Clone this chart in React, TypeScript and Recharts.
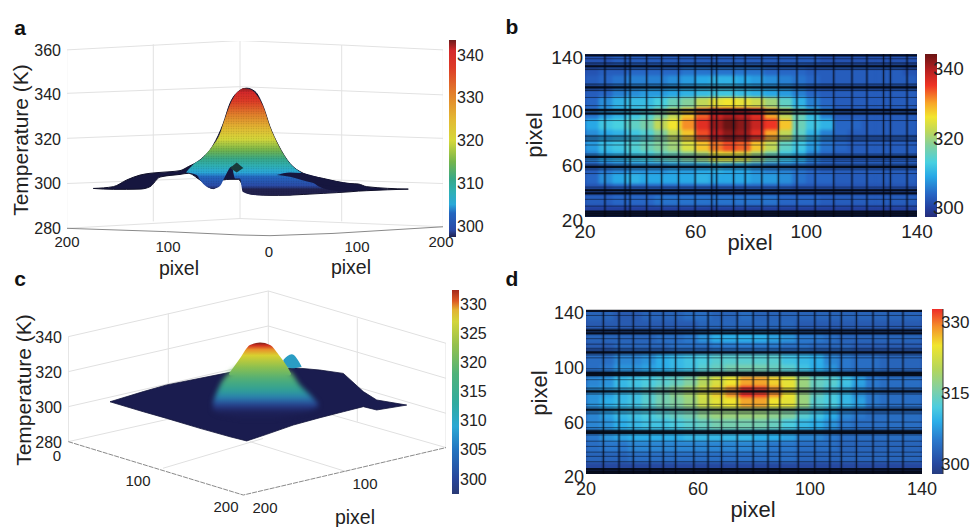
import React from "react";
import { ComposedChart, ScatterChart, BarChart, Bar, Scatter, Area, Line, XAxis, YAxis, ReferenceLine } from "recharts";

const FONT = '"Liberation Sans", Arial, sans-serif';
type Stop = [number, string];

// ---------- colour scales (temperature, colour) ----------
const cmapA: Stop[] = [[297.4,"#22224f"],[299,"#2a4aa6"],[303,"#2366c0"],[305,"#2aa8d8"],[308,"#2fb0b4"],[311,"#38a888"],[315,"#74b54c"],[320,"#d6d83a"],[325,"#e3b833"],[331,"#e27f2b"],[337,"#dd3b26"],[341,"#d4282a"],[343.5,"#6d1c1c"]];
const cmapB: Stop[] = [[297.4,"#262c78"],[300,"#23409f"],[304,"#2766c5"],[309,"#28a8e6"],[313,"#48d0e0"],[318,"#84d09c"],[322,"#c0d858"],[326,"#f2e52e"],[330,"#f8a528"],[335,"#ee3424"],[339,"#bb2020"],[344,"#6a1414"]];
const cmapC: Stop[] = [[297.4,"#2a3a75"],[300,"#28469a"],[305,"#2274c0"],[309,"#2ba8d4"],[313,"#30ab9f"],[318,"#4fb27a"],[323,"#95c04e"],[327,"#d3d53a"],[329,"#e3b232"],[330.5,"#dd5a24"],[332.4,"#a52a1c"]];
const cmapD: Stop[] = [[297.9,"#263c80"],[300,"#26489f"],[305,"#2a78cc"],[309,"#2caee8"],[312,"#4cccdf"],[316,"#84d0a0"],[320,"#b4d65c"],[325,"#f0e52e"],[329,"#f4902a"],[332.7,"#ee2c28"]];
const cmapPeakC: Stop[] = [[296.4,"#1c1f55"],[298,"#1f2560"],[301.2,"#27418f"],[305.3,"#2a7fb0"],[309.3,"#2f9f98"],[315.8,"#4fae78"],[322.7,"#8cc050"],[329.5,"#d8d030"],[332.8,"#e8902a"],[335.2,"#d0301f"],[336.8,"#7a2018"]];

// ---------- panel a: projected surface (view x, temperature) ----------
const aX = [93.3,113.3,126.7,140,150,160,180,188.3,200,213.3,223.3,230,238.3,246.7,255,263.3,270,278.3,290,303.3,323.3,350,358.3,366.7,408.3];
const aHigh = [297.8,298.6,301.6,303.8,304.6,305,305.8,307.6,310.6,317.3,327,336,341.3,342.8,341.3,334.5,325.5,317.3,309,304.6,302.3,300,299.8,298.6,297.5];
const aLow = [297.8,297.4,297.4,297.5,298.6,302.9,304.1,304.6,301.6,297.7,301.6,301.9,301.9,295.9,295.1,294.8,294.7,294.7,294.8,295.1,295.6,296.3,296.6,296.8,297.5];
const aColorX = [186,196.7,200,206.7,213.3,220,223.3,226.7,231.7,235,240,242.7,250,256.7,263.3,270,278.3,290,301.7,323.3,346.7];
const aColorHigh = [305,309.8,310.6,313.6,317.3,322.5,327,331.5,337.2,339.8,342,342.8,342.3,339.8,334.5,325.5,317.3,309,304.7,297.8,296.3];
const aColorLow = [305,303.8,301.6,298.6,297.7,298.9,301.6,304.6,307.6,302.3,302.3,296.3,295.1,294.8,294.7,294.7,294.7,294.8,295.3,295.6,296.3];
const aWedgeX = [276.7,290,301.7,323.3,350,366.7];
const aWedgeHigh = [303.8,305,304.7,302.3,300,298.6];
const aWedgeLow = [303.8,303,301.6,299.3,298.1,297];
const aNotchX = [230,236.7,243.3];
const aNotchHigh = [307,309.5,307];
const aNotchLow = [307,305,307];
const aGrid: [number, number][][] = [
  [[66.7,360],[240,364.2],[341.7,362.2],[443.3,360]],
  [[66.7,340.5],[240,343.5],[443.3,339.8]],
  [[66.7,320.3],[240,323.3],[443.3,320.3]],
  [[66.7,300],[240,303],[443.3,300]],
  [[66.7,279.9],[240,284.3],[443.3,280.6]],
  [[66.7,360],[66.7,279.9]],
  [[153.3,362.5],[153.3,283]],
  [[240,364.2],[240,284.3]],
  [[341.7,362.2],[341.7,283]],
  [[443.3,360],[443.3,280.6]],
];
const aFront: [number, number][] = [[66.7,279.9],[166.7,278.4],[240,276.9],[270,276.6],[333,277.6],[443.3,280.6]];
const aTickPos = [67,168,269,357,441];
const aTickText = ["200","100","0","100","200"];
const aTickDrop = [2,7,12,7,2];
const aTemps = [280,300,320,340,360];

// ---------- panel c: projected surface ----------
const cX = [110,143.3,166.7,200,230,246.7,266.7,293.3,320,343.3,363.3,376.7,406.7];
const cHigh = [303,308.8,312.6,316.4,319.8,320.6,321.3,322.5,321.1,319.2,308.8,304,301.1];
const cLow = [303,297.3,293.5,287.8,283,280.6,284.4,289.7,293.9,297.3,300.2,298.3,301.1];
const cDomeX = [213,220,230,240,270,290,300,310,318];
const cDomeHigh = [303,312.6,319.8,323,323,320.2,312.6,307,302];
const cDomeLow = [298,296,295,294,294,295,296.5,298,300];
const cCapX = [229,230,240,250,260,270,280,290,291];
const cCapHigh = [319,319.8,327.8,335.4,336.8,335.4,328.8,320.2,319];
const cCapLow = [319,318,318,318,318,318,318,318,319];
const cBumpX = [283.3,291.7,301.7];
const cBumpHigh = [326.9,330.1,323];
const cBumpLow = [324,322.1,323];
const cGrid: [number, number][][] = [
  [[68.3,340.2],[268.3,366.3],[446,336.4]],
  [[68.3,320.2],[268.3,346.3],[446,316.4]],
  [[68.3,300.2],[268.3,326.3],[446,296.4]],
  [[68.3,280.2],[268.3,305.9],[446,276.8]],
  [[68.3,340.2],[68.3,280.2]],
  [[168.3,353.5],[168.3,293.1]],
  [[268.3,366.3],[268.3,305.9]],
  [[357.3,350.7],[357.3,291.6]],
  [[446,336.4],[446,276.8]],
  [[163,265],[263,282]],
  [[346.7,263],[250,280.2]],
];
const cFront: [number, number][] = [[68.3,280.2],[243.3,249.7],[446,276.8]];
const cTemps = [280,300,320,340];

// ---------- panels b and d: heat maps ----------
const heatX = [22.5,27.5,32.5,37.5,42.5,47.5,52.5,57.5,62.5,67.5,72.5,77.5,82.5,87.5,92.5,97.5,102.5,107.5,112.5,117.5,122.5,127.5,132.5,137.5];
const heatY = [136,128,120,112,104,96,88,80,72,64,56,48,40,32,24];
const heatB = [
  [302,302,303,303,303,303,303,303,303,303,303,303,303,303,303,303,303,302,302,302,302,302,302,302],
  [302,303,303,304,304,304,304,305,305,305,305,305,305,304,304,304,303,303,303,303,303,303,303,302],
  [303,304,305,306,306,306,307,308,309,310,310,309,308,307,306,305,304,303,303,303,303,303,303,303],
  [303,304,306,307,308,308,309,310,311,312,312,311,310,309,308,306,304,303,303,303,303,303,303,303],
  [304,307,310,311,311,313,316,318,322,325,326,325,323,320,315,310,306,304,303,303,303,303,303,303],
  [305,308,310,312,314,318,322,328,333,338,340,339,336,330,322,316,311,306,303,303,303,303,303,303],
  [309,312,313,315,317,322,326,331,336,341,344,342,338,335,328,316,312,310,304,304,303,303,303,303],
  [307,309,310,312,314,318,322,328,334,339,342,341,336,330,322,315,310,306,304,303,303,303,303,303],
  [308,311,312,314,316,318,320,324,328,332,334,333,328,322,315,312,308,305,304,303,303,303,303,303],
  [306,309,310,312,313,315,316,318,320,325,325,324,320,316,312,310,306,304,303,303,303,303,303,303],
  [303,305,306,307,307,307,308,308,309,310,309,309,307,306,306,305,304,303,303,303,303,303,303,303],
  [304,307,309,310,309,309,309,309,310,309,309,309,308,308,307,305,304,304,303,303,303,303,303,303],
  [302,302,303,303,303,303,303,303,303,303,303,303,303,303,303,302,302,302,302,302,302,302,302,302],
  [303,303,304,304,304,305,305,305,305,305,305,305,305,305,304,304,304,303,303,303,303,303,303,303],
  [300,300,300,300,300,300,300,300,300,300,300,300,300,300,300,300,300,300,300,300,300,300,300,300],
];
const heatD = [
  [303,303,302,302,303,303,303,304,304,303,303,304,303,303,303,303,303,303,303,303,303,303,303,303],
  [302,302,302,302,302,302,302,302,303,303,303,303,303,303,303,302,302,302,302,302,302,302,302,302],
  [303,303,303,303,303,304,304,305,307,309,309,309,309,308,307,305,305,304,303,303,303,303,303,303],
  [302,302,303,303,303,303,304,304,304,305,305,305,305,305,304,304,303,303,303,302,302,302,302,302],
  [304,304,306,306,307,309,310,311,312,313,313,313,313,313,311,310,309,306,305,304,304,303,303,303],
  [304,305,307,307,308,309,310,311,313,314,315,315,315,314,313,311,309,307,305,304,304,303,303,303],
  [306,307,310,311,312,313,314,316,320,323,325,328,328,326,324,318,314,313,311,308,305,304,304,304],
  [307,308,310,311,313,315,317,319,323,326,329,333,332,329,325,318,314,312,310,307,305,304,304,304],
  [307,309,310,311,313,315,316,318,322,324,325,328,328,325,324,318,313,312,310,308,305,304,304,304],
  [306,308,310,311,312,313,314,315,317,318,318,318,318,317,316,313,311,309,306,305,304,304,304,304],
  [306,307,309,310,311,311,312,313,314,315,315,315,315,314,312,310,309,307,305,304,304,304,304,304],
  [305,307,308,309,309,309,309,310,310,310,310,310,309,309,308,306,306,305,304,304,304,304,304,304],
  [304,305,305,306,306,306,306,306,306,306,306,306,306,305,305,304,304,304,303,303,303,303,303,303],
  [303,303,303,304,304,304,304,304,304,304,304,304,304,304,304,303,303,303,303,303,303,303,303,303],
  [300,300,300,300,300,300,300,300,300,300,300,300,300,300,300,300,300,300,300,300,300,300,300,300],
];
const bColLines = [27.2,34.5,36.3,42.3,47.7,53.8,59.8,65.8,67.6,73.7,77.9,83.9,89.9,96.6,103.2,109.9,116.5,121.9,127.9,130.4,136.4];
const bRowThick = [139,131,115.4,98.7,96.2,64.3,56.9,39.7,37.5,21,22.5,24];
const bRowThin = [136.5,133.5,128.5,118,113,108,102,91,79.5,76,73,61,52,42,28,33];
const bRowWide = [131,115.4,97.5,78,64.3,56.9,38.5];
const dColLines = [26.2,31.8,36.9,42.8,47.6,52,58.5,63.6,68.4,74,79.7,85,89.2,95.8,101.7,107.1,111.2,116.6,122.5,127.9,133.2];
const dRowThick = [139.3,125,123,109,94,92.5,80.4,67,51.2,50,23.5,22,20.8];
const dRowThin = [136,128,119,115,112,105,97,89,83,71,64,58,54,44,40.2,36,32.9,29];
const dRowWide = [124,109,93.3,80.4,67,50.6];
const heatTicks = [20,60,100,140];
const ticksBarA = [300,310,320,330,340];
const ticksBarB = [300,320,340];
const ticksBarC = [300,305,310,315,320,325,330];
const ticksBarD = [300,315,330];

// ---------- helpers ----------
const mix = (a: string, b: string, f: number) => {
  const p = (s: string, i: number) => parseInt(s.slice(i, i + 2), 16);
  const c = [1, 3, 5].map((i) => Math.round(p(a, i) + (p(b, i) - p(a, i)) * f));
  return `rgb(${c[0]},${c[1]},${c[2]})`;
};
const colorAt = (cmap: Stop[], t: number) => {
  if (t <= cmap[0][0]) return cmap[0][1];
  for (let i = 1; i < cmap.length; i++) {
    if (t <= cmap[i][0]) return mix(cmap[i - 1][1], cmap[i][1], (t - cmap[i - 1][0]) / (cmap[i][0] - cmap[i - 1][0]));
  }
  return cmap[cmap.length - 1][1];
};
const tempGradient = (id: string, cmap: Stop[], lo: number, hi: number) => (
  <linearGradient id={id} x1="0" y1="0" x2="0" y2="1">
    <stop offset={0} stopColor={colorAt(cmap, hi)} />
    {[...cmap].reverse().filter(([t]) => t < hi && t > lo).map(([t, c]) => (
      <stop key={t} offset={(hi - t) / (hi - lo)} stopColor={c} />
    ))}
    <stop offset={1} stopColor={colorAt(cmap, lo)} />
  </linearGradient>
);
const band = (xs: number[], lo: number[], hi: number[]) => xs.map((x, i) => ({ x, range: [lo[i], hi[i]] }));
const pts = (list: [number, number][]) => list.map(([x, y]) => ({ x, y }));

const Txt = ({ x, y, size, bold, rot, children }: any) => (
  <span style={{ position: "absolute", left: x, top: y, fontSize: size, fontWeight: bold ? 700 : 400, color: bold ? "#111" : "#222", whiteSpace: "nowrap", lineHeight: 1, transform: `translate(-50%,-50%)${rot ? ` rotate(${rot}deg)` : ""}` }}>{children}</span>
);

const ColorBar = ({ id, x, y, w, h, lo, hi, cmap, ticks, size, gap, shift, line }: any) => (
  <div style={{ position: "absolute", left: x, top: y }}>
    <BarChart width={w + 37} height={h} data={[{ n: "t", range: [lo, hi] }]} margin={{ top: 0, right: 0, bottom: 0, left: 0 }} barCategoryGap={0}>
      <defs>{tempGradient(id, cmap, lo, hi)}</defs>
      <XAxis dataKey="n" hide />
      <YAxis orientation="right" width={37} type="number" domain={[lo, hi]} ticks={ticks} interval={0} allowDataOverflow axisLine={line ? { stroke: "#333" } : false} tickLine={false} tickSize={0} tickMargin={gap} tick={{ fill: "#222", fontSize: size, fontFamily: FONT, dx: shift || 0 }} />
      <Bar dataKey="range" fill={`url(#${id})`} isAnimationActive={false} />
    </BarChart>
  </div>
);

const Heat = ({ x, y, w, h, grid, cmap, colLines, rowThick, rowThin, rowWide, size }: any) => {
  const cells = grid.flatMap((row: number[], r: number) => row.map((t, c) => ({ x: heatX[c], y: heatY[r], t })));
  const cw = w / heatX.length + 0.6;
  const ch = h / heatY.length + 0.6;
  const Cell = (p: any) => <rect x={p.cx - cw / 2} y={p.cy - ch / 2} width={cw} height={ch} fill={colorAt(cmap, p.payload.t)} />;
  const Nothing = () => <g />;
  return (
    <>
      <div style={{ position: "absolute", left: x, top: y, width: w, height: h, overflow: "hidden", background: "#24469c" }}>
        <div style={{ filter: "blur(1.6px)" }}>
          <ScatterChart width={w} height={h} margin={{ top: 0, right: 0, bottom: 0, left: 0 }}>
            <XAxis type="number" dataKey="x" domain={[20, 140]} hide />
            <YAxis type="number" dataKey="y" domain={[20, 140]} hide />
            <Scatter data={cells} shape={Cell} isAnimationActive={false} />
          </ScatterChart>
        </div>
      </div>
      <div style={{ position: "absolute", left: x - 70, top: y - 10 }}>
        <ScatterChart width={w + 90} height={h + 50} margin={{ top: 10, right: 20, bottom: 10, left: 0 }}>
          <XAxis type="number" dataKey="x" domain={[20, 140]} ticks={heatTicks} interval={0} height={30} axisLine={false} tickLine={false} tickSize={0} tickMargin={8} tick={{ fill: "#222", fontSize: size, fontFamily: FONT }} />
          <YAxis type="number" dataKey="y" domain={[20, 140]} ticks={heatTicks} interval={0} width={70} axisLine={false} tickLine={false} tickSize={0} tickMargin={2} tick={{ fill: "#222", fontSize: size, fontFamily: FONT, dy: 3 }} />
          <Scatter data={cells} shape={Nothing} isAnimationActive={false} />
          {rowWide.map((v: number) => <ReferenceLine key={`w${v}`} y={v} stroke="#050a18" strokeOpacity={0.32} strokeWidth={7} />)}
          {colLines.map((v: number) => <ReferenceLine key={`h${v}`} x={v} stroke="#050a18" strokeOpacity={0.2} strokeWidth={3.5} />)}
          {colLines.map((v: number) => <ReferenceLine key={v} x={v} stroke="#050a18" strokeOpacity={0.7} strokeWidth={1.1} />)}
          {rowThin.map((v: number) => <ReferenceLine key={v} y={v} stroke="#050a18" strokeOpacity={0.5} strokeWidth={1} />)}
          {rowThick.map((v: number) => <ReferenceLine key={v} y={v} stroke="#03060f" strokeOpacity={0.88} strokeWidth={2.2} />)}
        </ScatterChart>
      </div>
    </>
  );
};

const gridProps = { dot: false, isAnimationActive: false, dataKey: "y", legendType: "none" as const };
const layer = (top: number, blur: number): React.CSSProperties => ({ position: "absolute", left: 0, top, filter: `blur(${blur}px)` });

export default function App() {
  const marginA = { top: 41, right: 17, bottom: 33, left: 67 };
  const marginC = { top: 24.5, right: 14, bottom: 12, left: 68 };
  return (
    <div style={{ position: "absolute", left: 0, top: 0, width: 974, height: 527, overflow: "hidden", background: "#fff", fontFamily: FONT }}>
      {/* panel a: axes and box */}
      <div style={{ position: "absolute", left: 0, top: 0 }}>
        <ComposedChart width={460} height={270} margin={{ top: 41, right: 17, bottom: 3, left: 0 }}>
          <XAxis type="number" dataKey="x" domain={[67, 443]} allowDataOverflow ticks={aTickPos} interval={0} height={30} axisLine={false} tickLine={false} tickSize={0}
            tick={(p: any) => <text x={p.x} y={p.y + aTickDrop[p.index]} textAnchor="middle" dominantBaseline="central" fontSize={15} fill="#222" fontFamily={FONT}>{aTickText[p.index]}</text>} />
          <YAxis type="number" domain={[276, 364]} allowDataOverflow ticks={aTemps} interval={0} width={67} axisLine={false} tickLine={false} tickSize={0} tickMargin={6} tick={{ fill: "#222", fontSize: 16, fontFamily: FONT }} />
          {aGrid.map((g, i) => <Line key={i} data={pts(g)} stroke="#e2e2e2" strokeWidth={1} {...gridProps} />)}
          <Line data={pts(aFront)} stroke="#8a8a8a" strokeWidth={1} {...gridProps} />
        </ComposedChart>
      </div>
      {/* panel a: surface */}
      <div style={layer(0, 0.5)}>
        <ComposedChart width={460} height={270} margin={marginA}>
          <defs>
            {tempGradient("surfA", cmapA, 294.7, 342.8)}
            <pattern id="meshA" width="2.5" height="2.5" patternUnits="userSpaceOnUse"><circle cx="1.25" cy="1.25" r="0.6" fill="#000" fillOpacity="0.18" /></pattern>
          </defs>
          <XAxis type="number" dataKey="x" domain={[67, 443]} allowDataOverflow hide />
          <YAxis type="number" domain={[276, 364]} allowDataOverflow hide />
          <Area data={band(aX, aLow, aHigh)} dataKey="range" type="monotone" fill="#16163f" fillOpacity={1} stroke="#101028" strokeWidth={1} isAnimationActive={false} />
          <Area data={band(aColorX, aColorLow, aColorHigh)} dataKey="range" type="monotone" fill="url(#surfA)" fillOpacity={1} stroke="none" isAnimationActive={false} />
          <Area data={band(aColorX, aColorLow, aColorHigh)} dataKey="range" type="monotone" fill="url(#meshA)" fillOpacity={1} stroke="none" isAnimationActive={false} />
          <Area data={band(aWedgeX, aWedgeLow, aWedgeHigh)} dataKey="range" type="monotone" fill="#16163f" fillOpacity={1} stroke="none" isAnimationActive={false} />
          <Area data={band(aNotchX, aNotchLow, aNotchHigh)} dataKey="range" type="linear" fill="#1a3a3a" fillOpacity={1} stroke="none" isAnimationActive={false} />
        </ComposedChart>
      </div>
      <ColorBar id="barA" x={449} y={40} w={7} h={197} lo={297.4} hi={343.5} cmap={cmapA} ticks={ticksBarA} size={16} gap={1} />

      {/* panel b */}
      <Heat x={585} y={54} w={332} h={163} grid={heatB} cmap={cmapB} colLines={bColLines} rowThick={bRowThick} rowThin={bRowThin} rowWide={bRowWide} size={19} />
      <ColorBar id="barB" x={925} y={54} w={12} h={163} lo={297.4} hi={344} cmap={cmapB} ticks={ticksBarB} size={18.5} gap={0} shift={-4} />

      {/* panel c: axes and box */}
      <div style={{ position: "absolute", left: 0, top: 260 }}>
        <ComposedChart width={460} height={250} margin={{ top: 24.5, right: 14, bottom: 12, left: 0 }}>
          <XAxis type="number" dataKey="x" domain={[68, 446]} allowDataOverflow hide />
          <YAxis type="number" domain={[248, 370]} allowDataOverflow ticks={cTemps} interval={0} width={68} axisLine={false} tickLine={false} tickSize={0} tickMargin={6} tick={{ fill: "#222", fontSize: 16, fontFamily: FONT }} />
          {cGrid.map((g, i) => <Line key={i} data={pts(g)} stroke="#e0e0e0" strokeWidth={1} {...gridProps} />)}
          <Line data={pts(cFront)} stroke="#8a8a8a" strokeWidth={1} strokeDasharray="5 1" {...gridProps} />
        </ComposedChart>
      </div>
      {/* panel c: sheet */}
      <div style={layer(260, 0.5)}>
        <ComposedChart width={460} height={250} margin={marginC}>
          <XAxis type="number" dataKey="x" domain={[68, 446]} allowDataOverflow hide />
          <YAxis type="number" domain={[248, 370]} allowDataOverflow hide />
          <Area data={band(cX, cLow, cHigh)} dataKey="range" type="linear" fill="#1a1c4f" fillOpacity={1} stroke="#14163c" strokeWidth={0.8} isAnimationActive={false} />
          <Area data={band(cBumpX, cBumpLow, cBumpHigh)} dataKey="range" type="monotone" fill="#2a9dc4" fillOpacity={1} stroke="none" isAnimationActive={false} />
        </ComposedChart>
      </div>
      {/* panel c: soft dome */}
      <div style={layer(260, 2.5)}>
        <ComposedChart width={460} height={250} margin={marginC}>
          <defs>{tempGradient("domeC", cmapPeakC, 294, 323)}</defs>
          <XAxis type="number" dataKey="x" domain={[68, 446]} allowDataOverflow hide />
          <YAxis type="number" domain={[248, 370]} allowDataOverflow hide />
          <Area data={band(cDomeX, cDomeLow, cDomeHigh)} dataKey="range" type="monotone" fill="url(#domeC)" fillOpacity={1} stroke="none" isAnimationActive={false} />
        </ComposedChart>
      </div>
      {/* panel c: peak cap */}
      <div style={layer(260, 0.5)}>
        <ComposedChart width={460} height={250} margin={marginC}>
          <defs>{tempGradient("capC", cmapPeakC, 318, 336.8)}</defs>
          <XAxis type="number" dataKey="x" domain={[68, 446]} allowDataOverflow hide />
          <YAxis type="number" domain={[248, 370]} allowDataOverflow hide />
          <Area data={band(cCapX, cCapLow, cCapHigh)} dataKey="range" type="monotone" fill="url(#capC)" fillOpacity={1} stroke="none" isAnimationActive={false} />
        </ComposedChart>
      </div>
      <ColorBar id="barC" x={452} y={290} w={7} h={204} lo={297.4} hi={332.4} cmap={cmapC} ticks={ticksBarC} size={16} gap={1} />

      {/* panel d */}
      <Heat x={586} y={310} w={336} h={164} grid={heatD} cmap={cmapD} colLines={dColLines} rowThick={dRowThick} rowThin={dRowThin} rowWide={dRowWide} size={18} />
      <ColorBar id="barD" x={932} y={309} w={11} h={165} lo={297.9} hi={332.7} cmap={cmapD} ticks={ticksBarD} size={17} gap={1} shift={-3} line />

      {/* letters and axis titles */}
      <Txt x={20} y={27} size={21} bold>a</Txt>
      <Txt x={512} y={26} size={21} bold>b</Txt>
      <Txt x={20} y={278} size={21} bold>c</Txt>
      <Txt x={512} y={278} size={21} bold>d</Txt>
      <Txt x={20} y={140} size={21} rot={-90}>Temperature (K)</Txt>
      <Txt x={23} y={390} size={21} rot={-90}>Temperature (K)</Txt>
      <Txt x={179} y={269} size={19.5}>pixel</Txt>
      <Txt x={351} y={268} size={19.5}>pixel</Txt>
      <Txt x={355} y={518} size={19.5}>pixel</Txt>
      <Txt x={750} y={243} size={22}>pixel</Txt>
      <Txt x={535} y={135} size={22} rot={-90}>pixel</Txt>
      <Txt x={753} y={510} size={22}>pixel</Txt>
      <Txt x={540} y={393} size={22} rot={-90}>pixel</Txt>
      <Txt x={57} y={455} size={15}>0</Txt>
      <Txt x={138} y={480} size={15}>100</Txt>
      <Txt x={226} y={506} size={15}>200</Txt>
      <Txt x={265} y={507} size={15}>200</Txt>
      <Txt x={365} y={483} size={15}>100</Txt>
    </div>
  );
}
